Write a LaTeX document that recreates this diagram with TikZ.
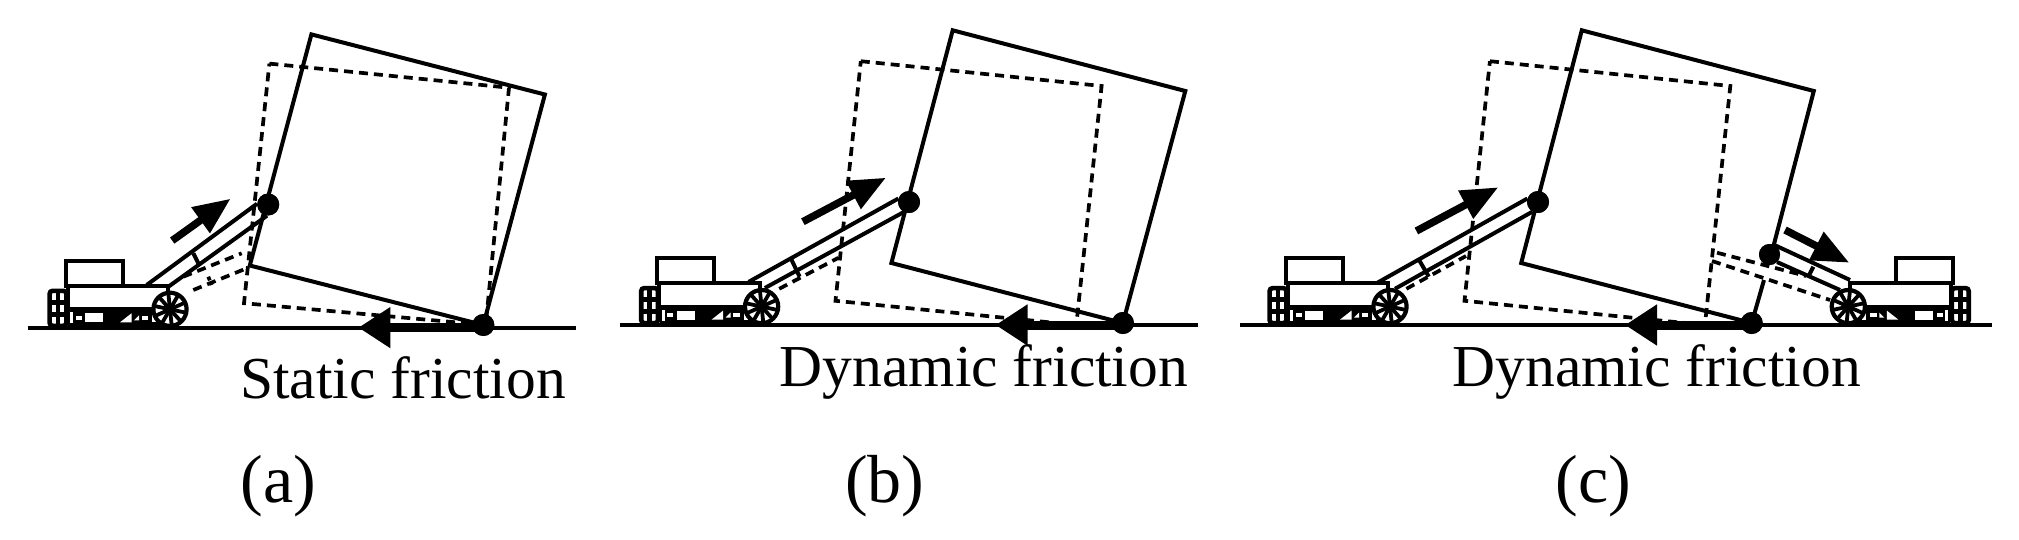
\documentclass[tikz,border=0pt]{standalone}
\usepackage{fontspec}
\setmainfont{Liberation Serif}
\usetikzlibrary{arrows.meta}
\tikzset{
  solidline/.style={line width=4pt,line join=miter,line cap=butt},
  armline/.style={line width=4pt},
  groundline/.style={line width=4pt},
  dashline/.style={line width=3.7pt,dash pattern=on 9pt off 6pt},
  pivotdot/.style={circle,fill=black,draw=none,minimum size=22pt,inner sep=0pt},
  pushfloat/.style={line width=7.5pt,-{Triangle[length=37pt,width=30pt]}},
  frictionarrow/.style={line width=9pt,-{Triangle[length=32pt,width=39pt]}},
  bigtext/.style={font=\fontsize{59.5}{62}\selectfont,inner sep=0pt,anchor=base},
  capt/.style={font=\fontsize{68}{70}\selectfont,inner sep=0pt,anchor=base},
  robot/.pic={
    % under-carriage band with openings
    \fill[black] (-102,0) rectangle (-5,17);
    \fill[white] (-100,3) rectangle (-97,14);
    \fill[white] (-94.3,6.7) rectangle (-88.3,10.7);
    \fill[white] (-85,4) rectangle (-66.7,13);
    \fill[white] (-50,13) -- (-38.5,4) -- (-38.5,13) -- cycle;
    \fill[white] (-36,11) -- (-31,6) -- (-31,11) -- cycle;
    \fill[white] (-28.3,6.7) rectangle (-21.7,10.7);
    \fill[white] (-18,5) rectangle (-14,13);
    % body and cabin
    \draw[line width=4pt,fill=white] (-102.3,-23.6) -- (-1.7,-23.6) -- (-1.7,0) -- (-102.3,0) -- cycle;
    \draw[line width=4pt,fill=white] (-104.3,-48.3) rectangle (-47.3,-23.6);
    % rear tower
    \draw[line width=4.6pt,rounded corners=3pt,fill=white] (-120.4,-18.5) rectangle (-103.6,16.5);
    \draw[line width=4.4pt] (-112,-18.5) -- (-112,16.5);
    \draw[line width=4.4pt] (-120.4,-7) -- (-103.6,-7) (-120.4,5) -- (-103.6,5);
    % wheel
    \draw[line width=4.2pt,fill=white] (0,0) circle[radius=16.6pt];
    \foreach \a in {12,48,84,120,156}{
      \draw[line width=3.8pt] (\a:16.6) -- (\a+180:16.6);
    }
    \fill (0,0) circle[radius=5pt];
  }
}
\begin{document}
\begin{tikzpicture}[x=1pt,y=-1pt]
\path[use as bounding box] (0,0) rectangle (2019,539);

% ===== panel (a) =====
\coordinate (aTL) at (311.4,34.4);
\coordinate (aTR) at (544.9,94.5);
\coordinate (aBL) at (249.8,265.5);
\node[pivotdot] (aArm) at (268.2,204.5) {};
\node[pivotdot] (aPiv) at (483.3,325) {};
\draw[dashline] (269.4,63.6) -- (509,87.7) -- (485.7,325) -- (244,303.2) -- cycle;
\draw[dashline] (183.3,276.7) -- (241.7,253.3);
\draw[dashline] (193.3,290) -- (246.7,268.3);
\draw[dashline,dash pattern=on 4pt off 2pt] (208.3,276.7) -- (211.7,285);
\draw[groundline] (27.8,327.6) -- (575.5,327.6);
\draw[solidline] (aPiv.center) -- (aTR) -- (aTL) -- (aBL) -- cycle;
\coordinate (aU) at (146.7,285);
\coordinate (aL) at (168,287);
\draw[armline] (aU) -- (aArm.176);
\draw[armline] (aL) -- (aArm.264);
\draw[armline] (193.3,253.3) -- (198.3,263.3);
\pic at (170,309.3) {robot};
\node[pivotdot] at (aArm) {};
\node[pivotdot] at (aPiv) {};
\coordinate (aPt) at (172.2,240.6);
\coordinate (aPh) at (230.6,198.7);
\draw[pushfloat] (aPt) -- (aPh);
\coordinate (aFh) at (358.4,327.6);
\draw[frictionarrow] (aPiv.center |- aFh) -- (aFh);
\node[bigtext] (aText) at (403,398.8) {Static friction};
\node[capt] (aCap) at (278.6,502.6) {(a)};

% ===== panel (b) =====
\coordinate (bTL) at (952.7,30.3);
\coordinate (bTR) at (1185.3,91);
\coordinate (bBL) at (891.4,263);
\node[pivotdot] (bArm) at (909,202) {};
\node[pivotdot] (bPiv) at (1122.9,323) {};
\draw[dashline] (860.8,61.2) -- (1101.6,86) -- (1076.3,325) -- (835.5,300.8) -- cycle;
\draw[dashline] (779.2,288.8) -- (838.4,257.8);
\draw[groundline] (620,325) -- (1197.6,325);
\draw[solidline] (bPiv.center) -- (bTR) -- (bTL) -- (bBL) -- cycle;
\coordinate (bU) at (748.6,281.9);
\coordinate (bL) at (764.9,288);
\draw[armline] (bU) -- (bArm.162);
\draw[armline] (bL) -- (bArm.243);
\draw[armline] (790.6,257.8) -- (799.6,276.7);
\pic at (761.6,306.6) {robot};
\node[pivotdot] at (bArm) {};
\node[pivotdot] at (bPiv) {};
\coordinate (bPt) at (802.9,221.7);
\coordinate (bPh) at (886,177.7);
\draw[pushfloat] (bPt) -- (bPh);
\coordinate (bFh) at (995.5,325);
\draw[frictionarrow] (bPiv.center |- bFh) -- (bFh);
\node[bigtext] (bText) at (983.9,386.7) {Dynamic friction};
\node[capt] (bCap) at (884.7,502.6) {(b)};

% ===== panel (c) =====
\coordinate (cTL) at (1581.8,30.3);
\coordinate (cTR) at (1813.8,91);
\coordinate (cBL) at (1521.2,263);
\coordinate (cGapA) at (1771.5,253.7);
\coordinate (cGapB) at (1764,280);
\node[pivotdot] (cArm) at (1538,202) {};
\node[pivotdot] (cPiv) at (1751.7,323) {};
\node[pivotdot,minimum size=21pt] (cArmR) at (1769.5,254.5) {};
\draw[dashline] (1489.9,61.2) -- (1730.3,86) -- (1704.9,325) -- (1464.5,300.8) -- cycle;
\draw[dashline] (1406.4,288.8) -- (1466,256);
\draw[dashline] (1717,252.7) -- (1806,276);
\draw[dashline] (1712,261) -- (1830,300);
\draw[groundline] (1240.4,325) -- (1991.7,325);
\draw[solidline] (cGapA) -- (cTR) -- (cTL) -- (cBL) -- (cPiv.center) -- (cGapB);
\coordinate (cU) at (1377.6,282.6);
\coordinate (cL) at (1395,288.8);
\draw[armline] (cU) -- (cArm.162);
\draw[armline] (cL) -- (cArm.240);
\draw[armline] (1418.8,259.5) -- (1428.8,276.7);
\pic at (1390,306.6) {robot};
\coordinate (cRU) at (1850,280);
\coordinate (cRL) at (1840,290);
\draw[armline] (cRU) -- (cArmR.60);
\draw[armline] (cRL) -- (cArmR.315);
\draw[armline] (1813.3,266.7) -- (1808.3,276.7);
\pic[xscale=-1] at (1848.3,306.6) {robot};
\node[pivotdot] at (cArm) {};
\node[pivotdot] at (cPiv) {};
\node[pivotdot,minimum size=21pt] at (cArmR) {};
\coordinate (cPt) at (1416.4,231);
\coordinate (cPh) at (1498.3,187.3);
\draw[pushfloat] (cPt) -- (cPh);
\coordinate (cRt) at (1785,230);
\coordinate (cRh) at (1849.3,262.7);
\draw[pushfloat] (cRt) -- (cRh);
\coordinate (cFh) at (1625,325);
\draw[frictionarrow] (cPiv.center |- cFh) -- (cFh);
\node[bigtext] (cText) at (1656.8,386.7) {Dynamic friction};
\node[capt] (cCap) at (1593.5,502.6) {(c)};
\end{tikzpicture}
\end{document}
